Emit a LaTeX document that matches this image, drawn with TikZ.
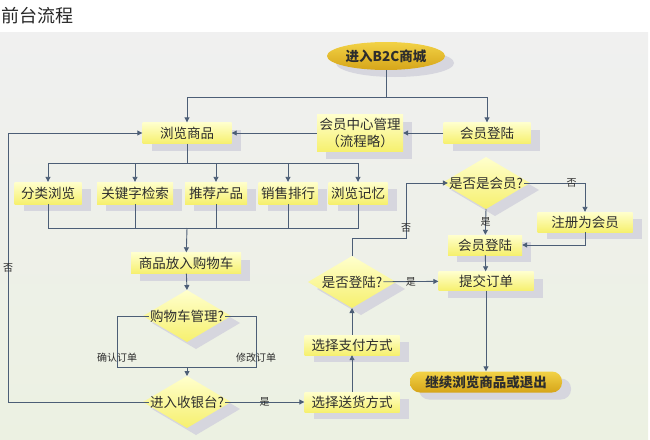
\documentclass[tikz,border=0pt]{standalone}
\usepackage{fontspec}
\setmainfont{Noto Sans CJK SC}
\usetikzlibrary{arrows.meta,shadows,shapes.geometric}

\definecolor{linec}{RGB}{76,94,118}
\definecolor{shadowc}{RGB}{214,214,222}
\definecolor{boxtop}{RGB}{255,255,205}
\definecolor{boxbot}{RGB}{246,240,110}
\definecolor{goldtop}{RGB}{242,210,70}
\definecolor{goldmid}{RGB}{255,240,150}
\definecolor{goldbot}{RGB}{214,165,25}
\definecolor{textc}{RGB}{45,45,45}
\definecolor{panelbot}{RGB}{236,241,226}

\tikzset{
	box/.style={top color=boxtop, bottom color=boxbot, inner sep=0pt, minimum height=21pt,
		text=textc, font=\fontsize{13.5}{17}\selectfont, align=center,
		drop shadow={shadow xshift=9pt, shadow yshift=-7pt, fill=shadowc, opacity=1}},
	goldbox/.style={box, top color=goldtop, middle color=goldmid, bottom color=goldbot,
		font=\fontsize{13.5}{16}\selectfont\bfseries},
	qtext/.style={inner sep=1pt, text=textc, font=\fontsize{13.5}{16}\selectfont},
	lbl/.style={inner sep=1pt, text=textc, font=\fontsize{10}{12}\selectfont},
	line/.style={draw=linec, line width=0.9pt},
	arr/.style={line, -{Triangle[length=5pt, width=5pt]}},
	decision/.pic={
		\fill[shadowc, shift={(9,7)}] (-44,0) -- (0,-26) -- (44,0) -- (0,26) -- cycle;
		\shade[top color=boxtop, bottom color=boxbot] (-44,0) -- (0,-26) -- (44,0) -- (0,26) -- cycle;
		\coordinate (-top) at (0,-26);
		\coordinate (-bottom) at (0,26);
	}
}

\begin{document}
\begin{tikzpicture}[x=1pt, y=-1pt]
	\useasboundingbox (0,0) rectangle (650,439);
	\shade[top color=black!6, middle color=white, bottom color=panelbot] (0,32) rectangle (648,439);
	\node[anchor=west, inner sep=0pt, font=\fontsize{18}{20}\selectfont, text=black!85] (title) at (1,16) {前台流程};

	% boxes
	\node[goldbox, ellipse, minimum width=118pt, minimum height=28pt] (mall) at (386,56) {进入B2C商城};
	\node[box, minimum width=89pt] (browse) at (187,133) {浏览商品};
	\node[box, minimum width=86pt, minimum height=37pt] (ucenter) at (360,133) {会员中心管理\\（流程略）};
	\node[box, minimum width=87pt] (login1) at (487,133) {会员登陆};

	\node[box, minimum width=67pt, minimum height=22pt] (cat) at (48,193) {分类浏览};
	\node[box, minimum width=76pt, minimum height=22pt] (key) at (135,193) {关键字检索};
	\node[box, minimum width=62pt, minimum height=22pt] (rec) at (216,193) {推荐产品};
	\node[box, minimum width=59pt, minimum height=22pt] (rank) at (288,193) {销售排行};
	\node[box, minimum width=59pt, minimum height=22pt] (hist) at (358,193) {浏览记忆};

	\node[box, minimum width=110pt] (addcart) at (186,263) {商品放入购物车};
	\pic (cartd) at (187,316) {decision};
	\node[qtext] (cartq) at (187,316) {购物车管理?};
	\pic (cashd) at (187,402) {decision};
	\node[qtext] (cashq) at (187,402) {进入收银台?};

	\node[box, minimum width=95pt, minimum height=20pt] (ship) at (352,402) {选择送货方式};
	\node[box, minimum width=95pt, minimum height=20pt] (paym) at (352,345) {选择支付方式};
	\pic (logind) at (352,282) {decision};
	\node[qtext] (loginq) at (352,282) {是否登陆?};

	\pic (memberd) at (486,183) {decision};
	\node[qtext] (memberq) at (486,183) {是否是会员?};
	\node[box, minimum width=95pt, minimum height=20pt] (reg) at (585,222) {注册为会员};
	\node[box, minimum width=74pt, minimum height=20pt] (login2) at (485,245) {会员登陆};
	\node[box, minimum width=95pt, minimum height=19pt] (submit) at (486,281) {提交订单};
	\node[goldbox, rounded corners=10pt, minimum width=152pt, minimum height=21pt] (quit) at (486,382) {继续浏览商品或退出};

	\coordinate (s1) at (386,97);
	\coordinate (s3) at (187,163);
	\coordinate (s4) at (187,228);
	\coordinate (lft) at (8,133);
	\coordinate (cl) at (117,367);
	\coordinate (cr) at (256,367);
	\coordinate (s5) at (187,367);
	\coordinate (s6) at (406,238);

	% connectors
	\draw[line] (mall) -- (s1);
	\draw[arr] (s1) -| (browse);
	\draw[arr] (s1) -| (login1);
	\draw[arr] (login1) -- (ucenter);
	\draw[arr] (ucenter) -- (browse);
	\draw[arr] (cashq) -| node[lbl, pos=0.75] {否} (lft) -- (browse);

	\draw[line] (browse) -- (s3);
	\foreach \n in {cat,key,rec,rank,hist}
		\draw[arr] (s3) -| (\n);
	\foreach \n in {cat,key,rec,rank,hist}
		\draw[line] (\n) |- (s4);
	\draw[arr] (s4) -- (addcart);
	\draw[arr] (addcart) -- (cartd-top);

	\draw[line] (cartq) -| node[lbl, pos=0.91] {确认订单} (cl) -- (cr) |- node[lbl, pos=0.09] {修改订单} (cartq);
	\draw[arr] (s5) -- (cashd-top);
	\draw[arr] (cashq) -- node[lbl] {是} (ship);
	\draw[arr] (ship) -- (paym);
	\draw[arr] (paym) -- (logind-bottom);

	\draw[arr] (logind-top) |- (s6) |- node[lbl, pos=0.09] {否} (memberq);
	\draw[arr] (loginq) -- node[lbl] {是} (submit);
	\draw[arr] (memberq) -| node[lbl, pos=0.39] {否} (reg);
	\draw[arr] (memberd-bottom) -- node[lbl] {是} (login2);
	\draw[arr] (reg) |- (login2);
	\draw[arr] (login2) -- (submit);
	\draw[arr] (submit) -- (quit);
\end{tikzpicture}
\end{document}
